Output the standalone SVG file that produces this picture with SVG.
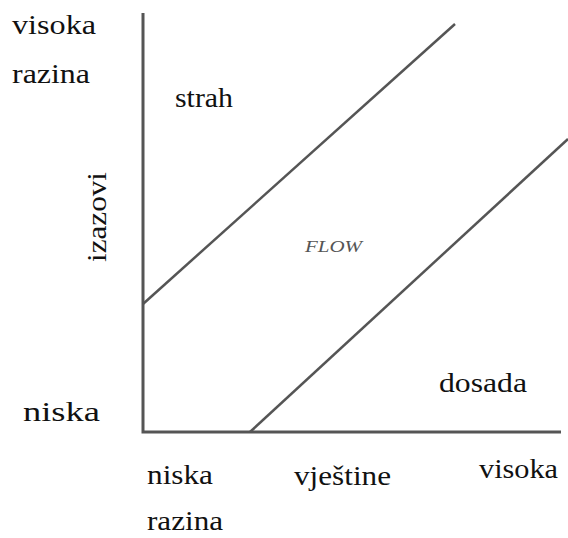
<svg xmlns="http://www.w3.org/2000/svg" width="568" height="538" viewBox="0 0 568 538">
<style>
.t{font-family:"Liberation Serif","Times New Roman",serif;font-size:28px;fill:#111}
.f{font-family:"Liberation Serif","Times New Roman",serif;font-size:16px;font-style:italic;fill:#555}
.ax{stroke:#555;stroke-width:3;fill:none}
.ln{stroke:#555;stroke-width:2.5;fill:none}
</style>
<rect width="568" height="538" fill="#fff"/>
<g id="connectors">
<path class="ax" d="M143,13 V432 H561"/>
<line class="ln" x1="143" y1="304" x2="455" y2="24"/>
<line class="ln" x1="250" y1="432" x2="568" y2="139"/>
</g>
<g id="labels">
<text class="t" x="12" y="34" textLength="84" lengthAdjust="spacingAndGlyphs">visoka</text>
<text class="t" x="12" y="83" textLength="78" lengthAdjust="spacingAndGlyphs">razina</text>
<text class="t" x="175" y="107" textLength="58" lengthAdjust="spacingAndGlyphs">strah</text>
<text class="t" transform="translate(106,262) rotate(-90)" textLength="90" lengthAdjust="spacingAndGlyphs">izazovi</text>
<text class="f" x="305" y="252" textLength="57" lengthAdjust="spacingAndGlyphs">FLOW</text>
<text class="t" x="439" y="392" textLength="88" lengthAdjust="spacingAndGlyphs">dosada</text>
<text class="t" x="23" y="421" textLength="77" lengthAdjust="spacingAndGlyphs">niska</text>
<text class="t" x="147" y="484" textLength="66" lengthAdjust="spacingAndGlyphs">niska</text>
<text class="t" x="294" y="485" textLength="97" lengthAdjust="spacingAndGlyphs">vještine</text>
<text class="t" x="479" y="478" textLength="79" lengthAdjust="spacingAndGlyphs">visoka</text>
<text class="t" x="147" y="530" textLength="76" lengthAdjust="spacingAndGlyphs">razina</text>
</g>
</svg>
